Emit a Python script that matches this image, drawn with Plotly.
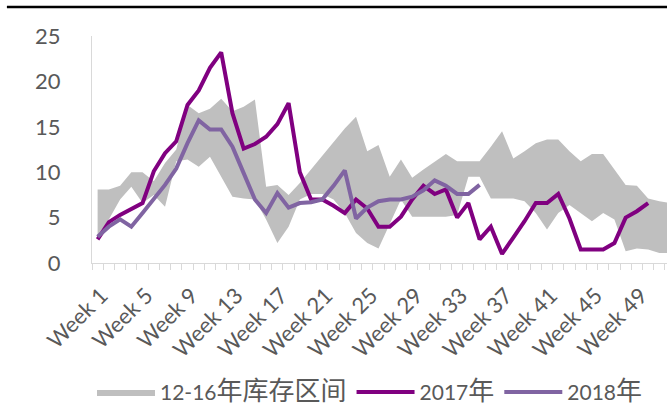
import plotly.graph_objects as go

weeks = list(range(1, 53))
week_labels = [f"Week {w}" for w in weeks]
tick_weeks = list(range(1, 53, 4))

band_upper = [8.1, 8.1, 8.5, 10.0, 10.0, 9.0, 11.0, 12.5, 17.4, 16.5, 17.0, 18.1, 16.7,
              17.2, 18.0, 8.4, 8.6, 7.5, 8.8, 10.3, 11.8, 13.3, 14.8, 16.1, 12.3, 13.0,
              9.5, 11.4, 9.4, 10.3, 11.2, 12.0, 11.2, 11.2, 11.2, 12.8, 14.5, 11.5, 12.3,
              13.2, 13.6, 13.6, 12.3, 11.2, 12.0, 12.0, 10.3, 8.6, 8.5, 7.1, 6.8, 6.6]
band_lower = [3.0, 4.8, 7.0, 8.4, 6.6, 7.5, 6.2, 11.2, 11.4, 10.6, 11.7, 9.5, 7.3,
              7.1, 7.0, 4.8, 2.2, 4.0, 7.0, 7.6, 7.6, 7.0, 5.5, 3.3, 2.2, 1.6,
              4.4, 7.0, 5.1, 5.1, 5.1, 5.1, 5.3, 9.5, 9.5, 7.1, 7.1, 7.1, 6.8,
              5.5, 3.7, 5.5, 6.4, 5.5, 4.6, 5.5, 4.8, 1.3, 1.6, 1.5, 1.1, 1.1]
y2017 = [2.6, 4.5, 5.3, 5.9, 6.6, 10.1, 12.1, 13.4, 17.4, 19.0, 21.5, 23.2, 16.5,
         12.6, 13.1, 13.9, 15.3, 17.6, 10.0, 7.0, 7.0, 6.3, 5.5, 7.0, 6.0, 4.0,
         4.0, 5.1, 7.0, 8.5, 7.6, 8.1, 5.0, 6.6, 2.6, 4.0, 1.0, 2.8, 4.6, 6.6,
         6.6, 7.6, 4.9, 1.5, 1.5, 1.5, 2.2, 5.0, 5.7, 6.6]
y2018 = [2.9, 4.0, 4.8, 4.0, 5.5, 7.0, 8.6, 10.4, 13.2, 15.7, 14.7, 14.7, 12.8,
         9.9, 7.0, 5.5, 7.7, 6.1, 6.6, 6.7, 7.0, 8.5, 10.2, 4.9, 6.1, 6.8,
         7.0, 7.0, 7.3, 8.0, 9.1, 8.5, 7.6, 7.6, 8.6]

FONT = "Lato, 'Noto Sans CJK SC', sans-serif"
GREY_TXT = "#595959"

fig = go.Figure()
fig.add_trace(go.Scatter(x=weeks, y=band_lower, mode="lines", line=dict(width=0),
                         showlegend=False, hoverinfo="skip"))
fig.add_trace(go.Scatter(x=weeks, y=band_upper, mode="lines", line=dict(width=0),
                         fill="tonexty", fillcolor="#BFBFBF",
                         name="12-16<span style='font-size:26px'>年库存区间</span>"))
fig.add_trace(go.Scatter(x=weeks[:len(y2017)], y=y2017, mode="lines",
                         line=dict(color="#800080", width=4),
                         name="2017<span style='font-size:26px'>年</span>"))
fig.add_trace(go.Scatter(x=weeks[:len(y2018)], y=y2018, mode="lines",
                         line=dict(color="#8064A2", width=4),
                         name="2018<span style='font-size:26px'>年</span>"))

fig.update_layout(
    width=667, height=418,
    margin=dict(l=92, r=0, t=36, b=155),
    paper_bgcolor="white", plot_bgcolor="white",
    font=dict(family=FONT, size=21, color=GREY_TXT),
    legend=dict(orientation="h", x=0.0, xanchor="left", y=-0.57, yanchor="middle",
                font=dict(size=21, color=GREY_TXT), itemwidth=58,
                bgcolor="rgba(0,0,0,0)", traceorder="normal"),
    shapes=[dict(type="line", xref="paper", yref="paper",
                 x0=-0.148, x1=1.0, y0=1.128, y1=1.128,
                 line=dict(color="black", width=2.5))],
)
fig.update_xaxes(
    range=[0.5, 51.68], showgrid=False, zeroline=False,
    tickmode="array", tickvals=tick_weeks, ticktext=[week_labels[w - 1] for w in tick_weeks],
    tickangle=-45, ticks="", ticklabelstandoff=10, ticklabelshift=4,
    showline=True, linecolor="#D9D9D9", linewidth=1,
    minor=dict(tickmode="array", tickvals=[w - 0.5 for w in weeks] + [52.5],
               ticks="outside", ticklen=6, tickcolor="#D9D9D9", tickwidth=1),
    tickfont=dict(size=22, color=GREY_TXT),
)
fig.update_yaxes(
    range=[0, 25], tickvals=[0, 5, 10, 15, 20, 25], showgrid=False, zeroline=False,
    showline=True, linecolor="#D9D9D9", linewidth=1, ticks="", ticklabelstandoff=26,
    tickfont=dict(size=22, color=GREY_TXT),
)

fig.write_html("out.html", config={"displayModeBar": False},
               post_script="document.body.style.margin='0px';")
